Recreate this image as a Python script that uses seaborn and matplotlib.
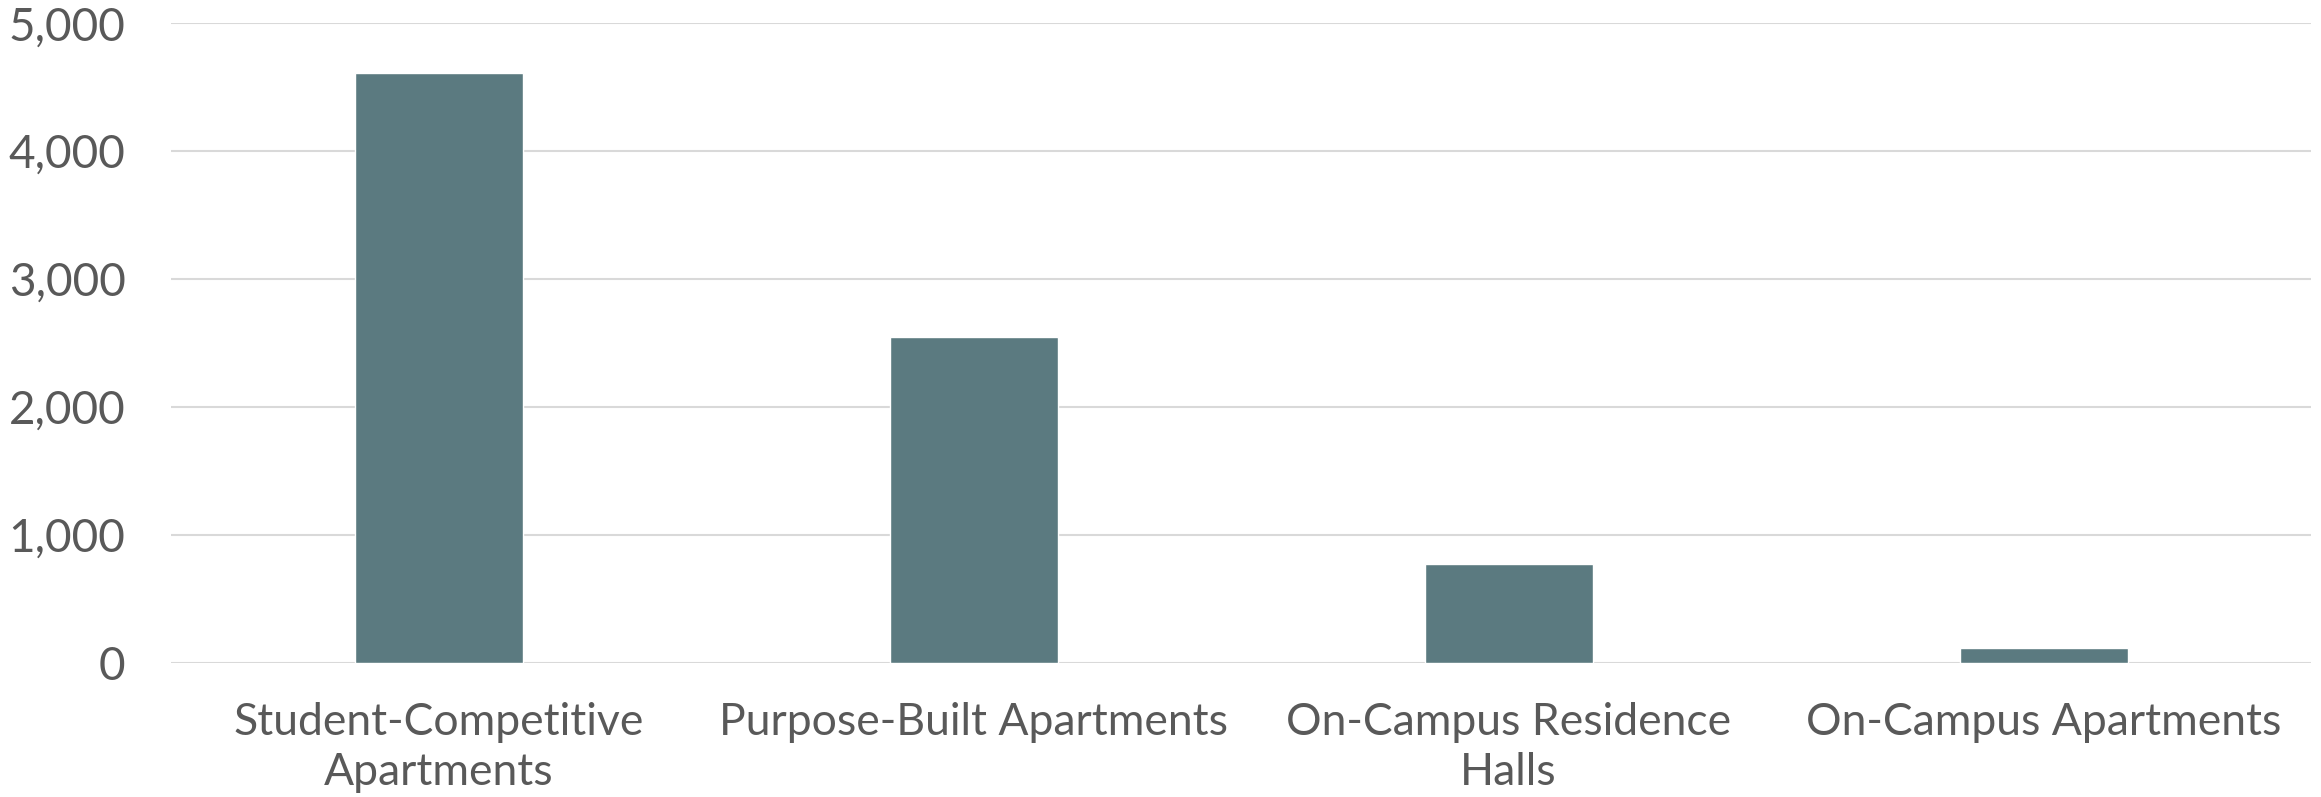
import seaborn as sns
import matplotlib.pyplot as plt
import pandas as pd
from matplotlib.ticker import FuncFormatter

# data
categories = ["Student-Competitive\nApartments", "Purpose-Built Apartments",
              "On-Campus Residence\nHalls", "On-Campus Apartments"]
values = [4610, 2550, 770, 113]
y_ticks = [0, 1000, 2000, 3000, 4000, 5000]

df = pd.DataFrame({"category": categories, "value": values})

sns.set_theme(style="white")
plt.rcParams["font.family"] = ["Lato", "DejaVu Sans"]

fig = plt.figure(figsize=(23.21, 7.97), dpi=100)
ax = fig.add_axes([0.0738, 0.1685, 0.9219, 0.8023])

sns.barplot(data=df, x="category", y="value", color="#5B7A80", saturation=1,
            width=0.314, ax=ax)

ax.set_ylim(0, 5000)
ax.set_yticks(y_ticks)
ax.yaxis.set_major_formatter(FuncFormatter(lambda v, p: f"{int(v):,}"))
ax.set_xlim(-0.5, len(categories) - 0.5)
ax.grid(axis="y", color="#D9D9D9", linewidth=1.5)
ax.set_axisbelow(True)
for s in ax.spines.values():
    s.set_visible(False)
ax.set_xlabel("")
ax.set_ylabel("")
ax.tick_params(axis="y", length=0, pad=33, labelsize=33, labelcolor="#595959")
ax.tick_params(axis="x", length=0, pad=28, labelsize=32, labelcolor="#595959")
for lbl in ax.get_xticklabels():
    lbl.set_linespacing(1.3)

fig.savefig("out.png", dpi=100)
